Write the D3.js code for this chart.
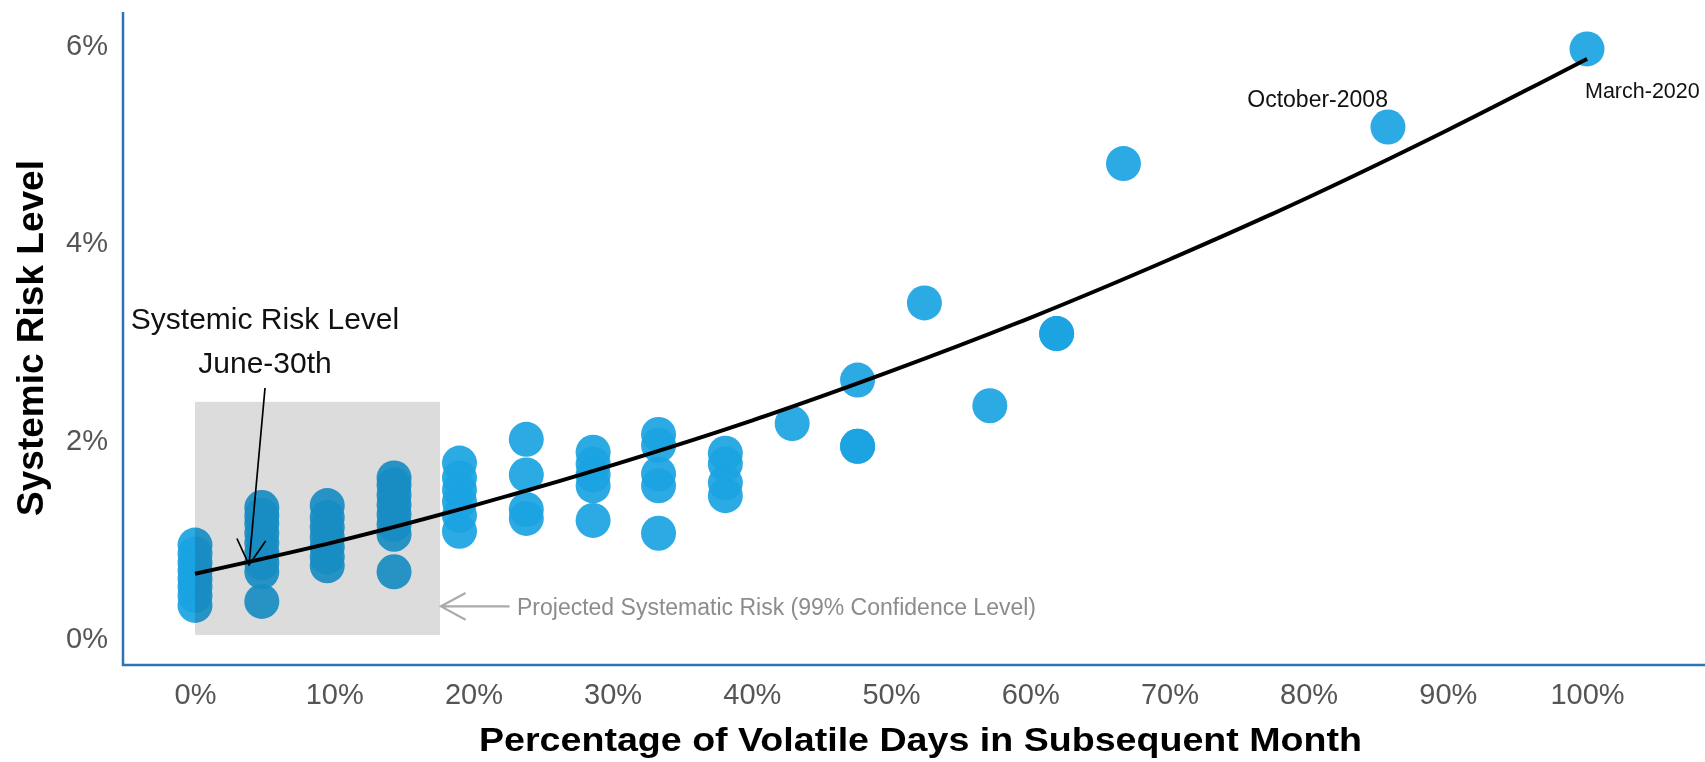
<!DOCTYPE html>
<html><head><meta charset="utf-8">
<script src="https://cdn.jsdelivr.net/npm/d3@7"></script>
<style>
html,body{margin:0;padding:0;background:#fff;overflow:hidden}
svg{display:block;font-family:"Liberation Sans",Arial,Helvetica,sans-serif}
</style></head><body>
<svg id="chart" width="1705" height="762"></svg>
<script>
// ---- data ----
const volatileShare = [0, 0.048, 0.095, 0.143, 0.190, 0.238, 0.286, 0.333, 0.381, 0.429, 0.476, 0.524, 0.571, 0.619, 0.667, 0.857, 1.0];
const riskLevels = [
  [0.0033, 0.0043, 0.0052, 0.0060, 0.0068, 0.0076, 0.0085, 0.0094],
  [0.0037, 0.0067, 0.0076, 0.0086, 0.0096, 0.0106, 0.0116, 0.0124, 0.0132],
  [0.0073, 0.0082, 0.0092, 0.0102, 0.0112, 0.0122, 0.0134],
  [0.0067, 0.0105, 0.0115, 0.0125, 0.0135, 0.0145, 0.0155, 0.0162],
  [0.0108, 0.0124, 0.0138, 0.0150, 0.0162, 0.0177],
  [0.0121, 0.0130, 0.0165, 0.0201],
  [0.0119, 0.0154, 0.0165, 0.0176, 0.0188],
  [0.0106, 0.0154, 0.0166, 0.0195, 0.0206],
  [0.0144, 0.0157, 0.0176, 0.0187],
  [0.0217],
  [0.0194, 0.0194, 0.0261],
  [0.0339],
  [0.0235],
  [0.0308, 0.0308],
  [0.0480],
  [0.0517],
  [0.0596]
];
const fitShare = [0, 0.1, 0.2, 0.3, 0.4, 0.5, 0.6, 0.7, 0.8, 0.9, 1.0];
const fitRisk  = [0.0065, 0.0097, 0.0134, 0.0175, 0.0220, 0.0270, 0.0324, 0.0383, 0.0446, 0.0514, 0.0586];
const xTicks = [0, 0.1, 0.2, 0.3, 0.4, 0.5, 0.6, 0.7, 0.8, 0.9, 1.0];
const yTicks = [0, 0.02, 0.04, 0.06];
const bandShare = [0, 0.176];
const bandRisk = [0.0003, 0.0239];
const eventLabels = ["October-2008", "March-2020"];
const noteLines = ["Systemic Risk Level", "June-30th"];
const bandNote = "Projected Systematic Risk (99% Confidence Level)";
const xTitle = "Percentage of Volatile Days in Subsequent Month";
const yTitle = "Systemic Risk Level";

// ---- layout ----
const x = d3.scaleLinear().domain([0, 1]).range([195, 1587]);
const y = d3.scaleLinear().domain([0, 0.06]).range([638, 45]);
const svg = d3.select("#chart");
const axisColor = "#2e74b5";
const pct = d3.format(".0%");

// points
const pts = volatileShare.flatMap((s, i) => riskLevels[i].map(r => ({s, r})));
svg.append("g").selectAll("circle").data(pts).join("circle")
  .attr("cx", d => x(d.s)).attr("cy", d => y(d.r)).attr("r", 17.5)
  .attr("fill", "#1aa3e2").attr("fill-opacity", 0.92);

// projected band
svg.append("rect")
  .attr("x", x(bandShare[0])).attr("width", x(bandShare[1]) - x(bandShare[0]))
  .attr("y", y(bandRisk[1])).attr("height", y(bandRisk[0]) - y(bandRisk[1]))
  .attr("fill", "#dcdcdc").style("mix-blend-mode", "multiply");

// fit curve
svg.append("path")
  .datum(fitShare.map((s, i) => [s, fitRisk[i]]))
  .attr("d", d3.line().x(d => x(d[0])).y(d => y(d[1])).curve(d3.curveMonotoneX))
  .attr("fill", "none").attr("stroke", "#000").attr("stroke-width", 4);

// axes
const gx = svg.append("g").attr("transform", "translate(0,665)")
  .call(d3.axisBottom(x).tickValues(xTicks).tickFormat(pct).tickSize(0).tickPadding(18));
gx.select(".domain").remove();
gx.attr("font-family", null).attr("font-size", 29);
gx.selectAll("text").attr("fill", "#555555");

const gy = svg.append("g").attr("transform", "translate(123,0)")
  .call(d3.axisLeft(y).tickValues(yTicks).tickFormat(pct).tickSize(0).tickPadding(15));
gy.select(".domain").remove();
gy.attr("font-family", null).attr("font-size", 29);
gy.selectAll("text").attr("fill", "#555555");

svg.append("line").attr("x1", 123).attr("x2", 123).attr("y1", 12).attr("y2", 666)
  .attr("stroke", axisColor).attr("stroke-width", 2.5);
svg.append("line").attr("x1", 122).attr("x2", 1705).attr("y1", 665).attr("y2", 665)
  .attr("stroke", axisColor).attr("stroke-width", 2.5);

// axis titles
svg.append("text").attr("x", 479).attr("y", 751)
  .attr("font-size", 34).attr("font-weight", "bold").attr("fill", "#000")
  .attr("textLength", 883).attr("lengthAdjust", "spacingAndGlyphs")
  .text(xTitle);
svg.append("text").attr("transform", "translate(43,338) rotate(-90)")
  .attr("text-anchor", "middle").attr("font-size", 37).attr("font-weight", "bold").attr("fill", "#000")
  .text(yTitle);

// arrow helper
function arrowPath(x0, y0, x1, y1, len, ang) {
  const a = Math.atan2(y0 - y1, x0 - x1);
  const w1 = [x1 + len * Math.cos(a + ang), y1 + len * Math.sin(a + ang)];
  const w2 = [x1 + len * Math.cos(a - ang), y1 + len * Math.sin(a - ang)];
  return `M${x0},${y0}L${x1},${y1}M${w1[0]},${w1[1]}L${x1},${y1}L${w2[0]},${w2[1]}`;
}

// June-30th annotation
svg.append("path")
  .attr("d", arrowPath(x(0.0503), y(0.0253), x(0.0388), y(0.0074), 29, 0.52))
  .attr("fill", "none").attr("stroke", "#000").attr("stroke-width", 1.7);
svg.selectAll("text.note").data(noteLines).join("text").attr("class", "note")
  .attr("x", x(0.0503)).attr("y", (d, i) => i === 0 ? y(0.0313) : y(0.0268))
  .attr("text-anchor", "middle").attr("font-size", 30).attr("fill", "#111")
  .text(d => d);

// projected band note
svg.append("path")
  .attr("d", arrowPath(x(0.226), y(0.0032), x(0.1767), y(0.0032), 28, 0.5))
  .attr("fill", "none").attr("stroke", "#aaaaaa").attr("stroke-width", 2.2);
svg.append("text").attr("x", 517).attr("y", 615)
  .attr("font-size", 23).attr("fill", "#8c8c8c").text(bandNote);

// event labels
svg.append("text").attr("x", x(0.857)).attr("y", 107).attr("text-anchor", "end")
  .attr("font-size", 23).attr("fill", "#111").text(eventLabels[0]);
svg.append("text").attr("x", x(1.0) - 2).attr("y", 98)
  .attr("font-size", 21.5).attr("fill", "#111").text(eventLabels[1]);
</script>
</body></html>
